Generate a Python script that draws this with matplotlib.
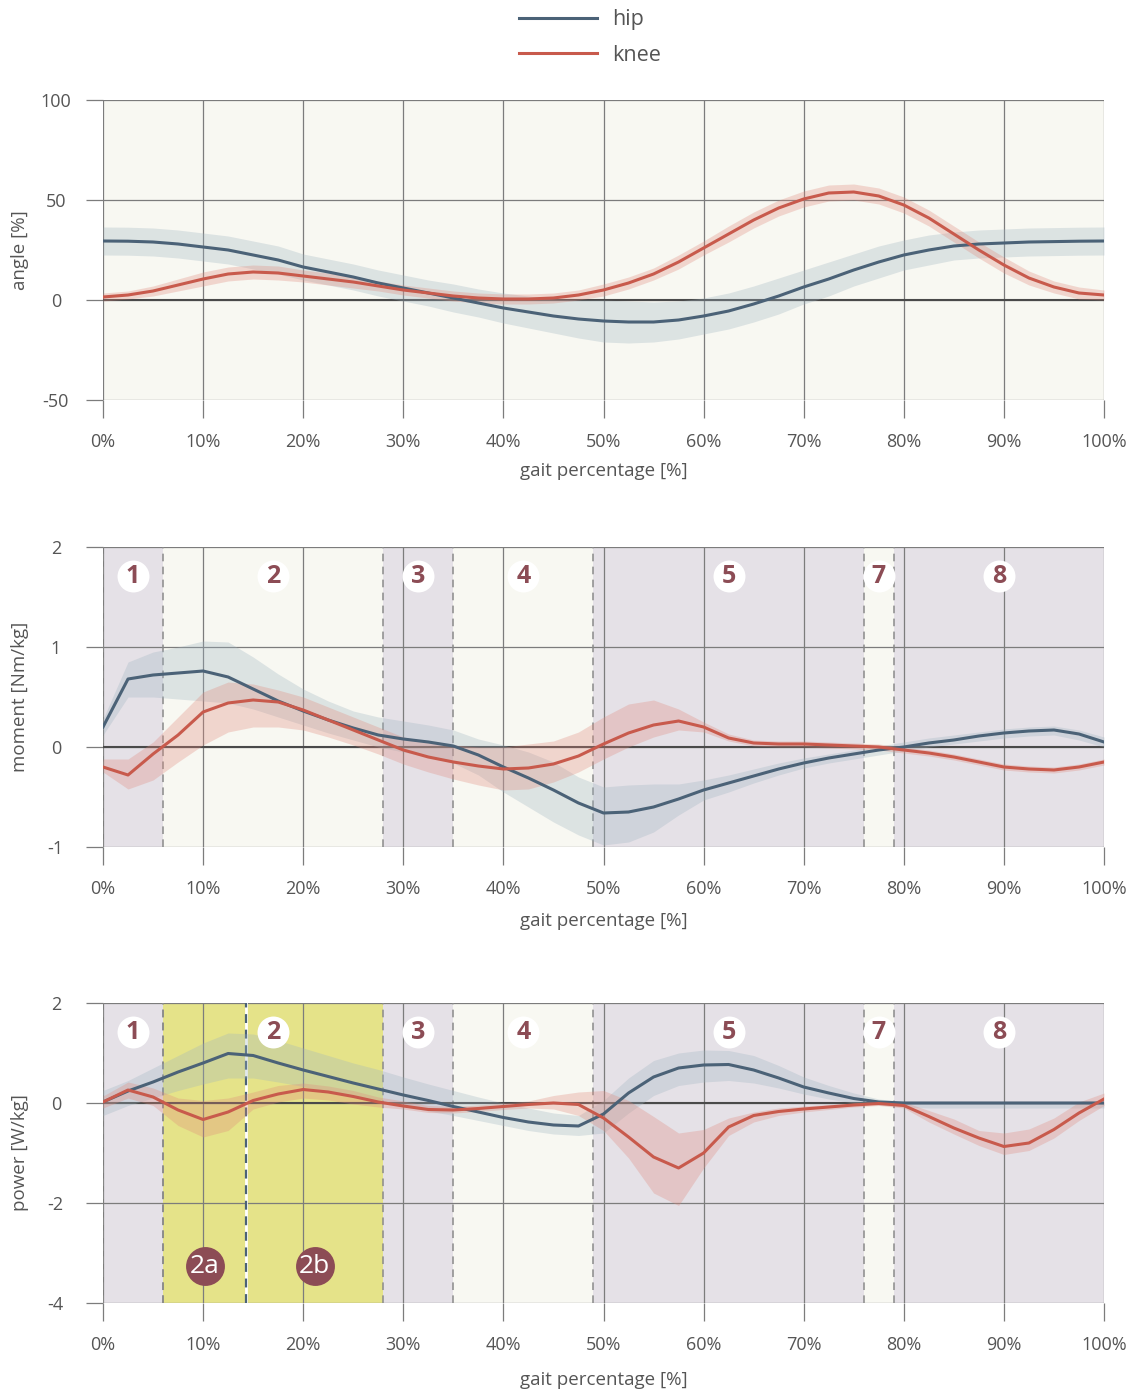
import numpy as np
import matplotlib
matplotlib.use('Agg')
import matplotlib.pyplot as plt
from matplotlib.transforms import blended_transform_factory

plt.rcParams['font.family'] = ['Open Sans', 'DejaVu Sans']

# ---------------- data ----------------
gait = [0, 2.5, 5, 7.5, 10, 12.5, 15, 17.5, 20, 22.5, 25, 27.5, 30, 32.5, 35, 37.5, 40,
        42.5, 45, 47.5, 50, 52.5, 55, 57.5, 60, 62.5, 65, 67.5, 70, 72.5, 75, 77.5, 80,
        82.5, 85, 87.5, 90, 92.5, 95, 97.5, 100]

angle_hip = [29.5, 29.4, 29, 28, 26.5, 25, 22.5, 20, 16.5, 14, 11.5, 8.5, 6, 3.5, 1, -1.5, -4,
             -6, -8, -9.5, -10.5, -11, -11, -10, -8, -5.5, -2, 2, 6.5, 10.5, 15, 19, 22.5,
             25, 27, 28, 28.5, 29, 29.2, 29.4, 29.5]
angle_hip_sd = [7, 7, 7, 7, 7, 7, 7, 7, 6.5, 6.5, 6.5, 6.5, 6.5, 6.5, 7, 7, 7.5,
                8, 8.5, 9.5, 10.5, 10.5, 10, 9.5, 9, 9, 9, 9, 8.5, 8.5, 8, 8, 7.5,
                7.5, 7, 7, 7, 7, 7, 7, 7]
angle_knee = [1.5, 2.5, 4.5, 7.5, 10.5, 13, 14, 13.5, 12, 10.5, 9, 7, 5, 3.5, 2, 1, 0.5,
              0.5, 1, 2.5, 5, 8.5, 13, 19, 26, 33, 40, 46, 50.5, 53.5, 54, 52, 47.5,
              41, 33, 25, 17.5, 11, 6.5, 3.5, 2.5]
angle_knee_sd = [2, 2, 2.5, 3, 3.5, 3.5, 3.5, 3.5, 3, 3, 3, 2.5, 2.5, 2.5, 2.5, 2.5, 2.5,
                 2.5, 2.5, 2.5, 3, 3, 3, 3.5, 3.5, 4, 4, 4, 4, 4, 4, 4, 4,
                 4, 4, 4, 4, 3.5, 3, 3, 2.5]

moment_hip = [0.2, 0.68, 0.72, 0.74, 0.76, 0.70, 0.58, 0.46, 0.36, 0.27, 0.19, 0.12, 0.08, 0.05, 0.01, -0.08, -0.2,
              -0.31, -0.43, -0.56, -0.66, -0.65, -0.6, -0.52, -0.43, -0.36, -0.29, -0.22, -0.16, -0.11, -0.07, -0.03, 0.0,
              0.04, 0.07, 0.11, 0.14, 0.16, 0.17, 0.13, 0.05]
moment_hip_lo = [0.12, 0.5, 0.5, 0.48, 0.46, 0.44, 0.38, 0.3, 0.22, 0.14, 0.07, 0.0, -0.05, -0.1, -0.16, -0.28, -0.45,
                 -0.6, -0.75, -0.88, -0.98, -0.95, -0.85, -0.68, -0.53, -0.45, -0.36, -0.28, -0.21, -0.16, -0.12, -0.08, -0.04,
                 0.0, 0.03, 0.06, 0.09, 0.11, 0.12, 0.07, 0.0]
moment_hip_hi = [0.28, 0.85, 0.95, 1.0, 1.06, 1.05, 0.9, 0.73, 0.58, 0.46, 0.36, 0.3, 0.26, 0.22, 0.17, 0.08, 0.02,
                 -0.05, -0.15, -0.3, -0.4, -0.38, -0.37, -0.37, -0.33, -0.28, -0.22, -0.16, -0.11, -0.07, -0.03, 0.01, 0.05,
                 0.09, 0.12, 0.15, 0.18, 0.2, 0.21, 0.17, 0.1]
moment_knee = [-0.2, -0.28, -0.07, 0.12, 0.35, 0.44, 0.47, 0.45, 0.37, 0.27, 0.17, 0.07, -0.03, -0.1, -0.15, -0.19, -0.22,
               -0.21, -0.17, -0.09, 0.03, 0.14, 0.22, 0.26, 0.2, 0.09, 0.04, 0.03, 0.03, 0.02, 0.01, 0.0, -0.03,
               -0.06, -0.1, -0.15, -0.2, -0.22, -0.23, -0.2, -0.15]
moment_knee_lo = [-0.25, -0.42, -0.33, -0.15, 0.02, 0.15, 0.2, 0.2, 0.17, 0.1, 0.02, -0.07, -0.17, -0.25, -0.32, -0.38, -0.43,
                  -0.42, -0.35, -0.25, -0.12, 0.0, 0.1, 0.17, 0.15, 0.06, 0.01, 0.0, 0.0, -0.01, -0.02, -0.03, -0.06,
                  -0.09, -0.13, -0.18, -0.23, -0.25, -0.26, -0.23, -0.18]
moment_knee_hi = [-0.12, -0.12, 0.05, 0.3, 0.55, 0.65, 0.63, 0.57, 0.5, 0.4, 0.3, 0.2, 0.1, 0.05, 0.02, 0.0, 0.0,
                  0.03, 0.06, 0.15, 0.3, 0.43, 0.47, 0.38, 0.25, 0.13, 0.07, 0.06, 0.06, 0.05, 0.04, 0.03, 0.0,
                  -0.03, -0.07, -0.12, -0.17, -0.19, -0.2, -0.17, -0.12]

power_hip = [0.02, 0.24, 0.42, 0.62, 0.8, 0.99, 0.95, 0.8, 0.66, 0.53, 0.4, 0.28, 0.16, 0.05, -0.07, -0.18, -0.29,
             -0.38, -0.44, -0.46, -0.22, 0.2, 0.52, 0.7, 0.76, 0.77, 0.66, 0.5, 0.32, 0.2, 0.09, 0.02, 0.0,
             0.0, 0.0, 0.0, 0.0, 0.0, 0.0, 0.0, 0.0]
power_hip_lo = [-0.25, -0.05, 0.1, 0.25, 0.38, 0.5, 0.5, 0.42, 0.33, 0.22, 0.12, 0.02, -0.07, -0.16, -0.25, -0.35, -0.45,
                -0.55, -0.62, -0.65, -0.6, -0.2, 0.15, 0.35, 0.42, 0.45, 0.4, 0.3, 0.18, 0.08, 0.0, -0.04, -0.08,
                -0.1, -0.1, -0.1, -0.1, -0.1, -0.1, -0.1, -0.1]
power_hip_hi = [0.25, 0.45, 0.7, 0.95, 1.2, 1.4, 1.38, 1.25, 1.1, 0.95, 0.8, 0.67, 0.52, 0.38, 0.25, 0.12, 0.0,
                -0.1, -0.2, -0.25, 0.05, 0.5, 0.85, 1.0, 1.06, 1.05, 0.95, 0.75, 0.52, 0.35, 0.2, 0.08, 0.03,
                0.02, 0.02, 0.02, 0.02, 0.02, 0.02, 0.02, 0.02]
power_knee = [0.02, 0.26, 0.12, -0.14, -0.33, -0.18, 0.05, 0.18, 0.27, 0.22, 0.13, 0.02, -0.06, -0.13, -0.14, -0.11, -0.07,
              -0.03, 0.0, -0.03, -0.3, -0.68, -1.08, -1.3, -1.0, -0.48, -0.25, -0.17, -0.12, -0.08, -0.04, -0.01, -0.05,
              -0.27, -0.5, -0.7, -0.87, -0.8, -0.53, -0.2, 0.08]
power_knee_lo = [-0.1, 0.1, -0.05, -0.45, -0.68, -0.55, -0.12, 0.02, 0.1, 0.06, -0.02, -0.08, -0.12, -0.19, -0.2, -0.17, -0.13,
                 -0.1, -0.12, -0.25, -0.55, -1.1, -1.8, -2.05, -1.3, -0.65, -0.38, -0.25, -0.18, -0.13, -0.08, -0.05, -0.1,
                 -0.38, -0.62, -0.85, -1.03, -0.95, -0.7, -0.35, -0.05]
power_knee_hi = [0.14, 0.42, 0.3, 0.1, 0.05, 0.1, 0.22, 0.35, 0.4, 0.34, 0.25, 0.12, 0.04, -0.05, -0.07, -0.04, 0.0,
                 0.04, 0.15, 0.22, 0.25, 0.05, -0.27, -0.6, -0.53, -0.3, -0.18, -0.1, -0.06, -0.03, 0.0, 0.03, 0.02,
                 -0.15, -0.32, -0.55, -0.6, -0.52, -0.3, 0.02, 0.2]

phase_bounds = [0, 6, 28, 35, 49, 76, 79, 100]
phase_labels = ['1', '2', '3', '4', '5', '7', '8']
phase_shaded = [True, False, True, False, True, False, True]
sub_bounds = [6, 14.3, 28]
sub_labels = ['2a', '2b']

x_ticks = [0, 10, 20, 30, 40, 50, 60, 70, 80, 90, 100]
x_ticklabels = ['0%', '10%', '20%', '30%', '40%', '50%', '60%', '70%', '80%', '90%', '100%']

# ---------------- style ----------------
HIP = '#4b6277'
KNEE = '#c85a4c'
HIP_F = '#9db3c0'
KNEE_F = '#e0877a'
CREAM = '#f8f8f2'
PURPLE = '#e5e1e7'
YELLOW = '#e5e389'
MAROON = '#8c4c55'
GRID = '#7c7c7c'
TXT = '#555555'
DASH = '#8a8a8a'

W, H = 1140, 1389
fig = plt.figure(figsize=(W / 100, H / 100), dpi=100)


def rect(top, bottom):
    return [103 / W, 1 - bottom / H, 1001 / W, (bottom - top) / H]


ax1 = fig.add_axes(rect(100, 400))
ax2 = fig.add_axes(rect(547, 847))
ax3 = fig.add_axes(rect(1003, 1303))

x = np.array(gait)


def base(ax, ylim, yticks, ylabel, xlab_y):
    ax.set_xlim(0, 100)
    ax.set_ylim(*ylim)
    ax.set_facecolor(CREAM)
    for s in ax.spines.values():
        s.set_visible(False)
    ax.set_axisbelow(True)
    ax.set_xticks(x_ticks)
    ax.set_xticklabels(x_ticklabels)
    ax.set_yticks(yticks)
    ax.set_yticklabels([str(v) for v in yticks])
    for lab in ax.get_yticklabels():
        lab.set_horizontalalignment('center')
    ax.grid(True, color=GRID, lw=0.9)
    ax.tick_params(axis='x', length=13, width=0.9, color=GRID, labelsize=13,
                   labelcolor=TXT, pad=11)
    ax.tick_params(axis='y', length=12, width=0.9, color=GRID, labelsize=13,
                   labelcolor=TXT, pad=22)
    ax.axhline(0, color='#4a4a4a', lw=1.5, zorder=1.5)
    ax.set_xlabel('gait percentage [%]', fontsize=13.5, color=TXT)
    ax.xaxis.set_label_coords(0.5, xlab_y)
    ax.set_ylabel(ylabel, fontsize=13.5, color=TXT)
    ax.yaxis.set_label_coords(-0.074, 0.5)


def curves(ax, hm, hlo, hhi, km, klo, khi):
    ax.fill_between(x, hlo, hhi, color=HIP_F, alpha=0.3, lw=0, zorder=2)
    ax.fill_between(x, klo, khi, color=KNEE_F, alpha=0.3, lw=0, zorder=2)
    lh, = ax.plot(x, hm, color=HIP, lw=2.2, zorder=3, label='hip', solid_joinstyle='round')
    lk, = ax.plot(x, km, color=KNEE, lw=2.2, zorder=3, label='knee', solid_joinstyle='round')
    return lh, lk


def phases(ax):
    trans = blended_transform_factory(ax.transData, ax.transAxes)
    for i, lab in enumerate(phase_labels):
        a, b = phase_bounds[i], phase_bounds[i + 1]
        ax.axvspan(a, b, color=PURPLE if phase_shaded[i] else CREAM, lw=0, zorder=0.2)
        mid = (a + b) / 2
        ax.plot([mid], [0.905], 'o', ms=23, mfc='white', mec='none', transform=trans,
                zorder=6, clip_on=False)
        ax.text(mid, 0.903, lab, transform=trans, ha='center', va='center',
                fontsize=18, fontweight='bold', color=MAROON, zorder=7)
    for xb in phase_bounds[:-1]:
        ax.axvline(xb, color=DASH, lw=1.1, ls=(0, (5, 3.5)), zorder=1.3)


base(ax1, (-50, 100), [100, 50, 0, -50], 'angle [%]', -0.205)
base(ax2, (-1, 2), [2, 1, 0, -1], 'moment [Nm/kg]', -0.215)
base(ax3, (-4, 2), [2, 0, -2, -4], 'power [W/kg]', -0.228)

phases(ax2)
phases(ax3)

# sub-phases 2a / 2b in power plot
trans3 = blended_transform_factory(ax3.transData, ax3.transAxes)
for i, lab in enumerate(sub_labels):
    a, b = sub_bounds[i], sub_bounds[i + 1]
    ax3.axvspan(a, b, color=YELLOW, lw=0, zorder=0.3)
    mid = (a + b) / 2
    ax3.plot([mid], [0.123], 'o', ms=28, mfc=MAROON, mec='none', transform=trans3, zorder=6)
    ax3.text(mid, 0.121, lab, transform=trans3, ha='center', va='center',
             fontsize=19, color='white', zorder=7)
ax3.axvline(sub_bounds[0], color=DASH, lw=1.1, ls=(0, (5, 3.5)), zorder=1.3)
ax3.axvline(sub_bounds[1], color='white', lw=2.0, zorder=1.3)
ax3.axvline(sub_bounds[1], color=HIP, lw=1.6, ls=(0, (4, 3)), zorder=1.35)

lh, lk = curves(ax1, angle_hip, np.array(angle_hip) - np.array(angle_hip_sd),
                np.array(angle_hip) + np.array(angle_hip_sd), angle_knee,
                np.array(angle_knee) - np.array(angle_knee_sd),
                np.array(angle_knee) + np.array(angle_knee_sd))
curves(ax2, moment_hip, moment_hip_lo, moment_hip_hi, moment_knee, moment_knee_lo, moment_knee_hi)
curves(ax3, power_hip, power_hip_lo, power_hip_hi, power_knee, power_knee_lo, power_knee_hi)

leg = fig.legend([lh, lk], ['hip', 'knee'], loc='upper center', bbox_to_anchor=(590 / W, 1 - 7 / H),
                 frameon=False, fontsize=15.5, handlelength=3.6, labelspacing=0.68,
                 handletextpad=0.7, borderaxespad=0.0, borderpad=0.1)
for t in leg.get_texts():
    t.set_color(TXT)

fig.savefig('out.png', dpi=100, facecolor='white')
